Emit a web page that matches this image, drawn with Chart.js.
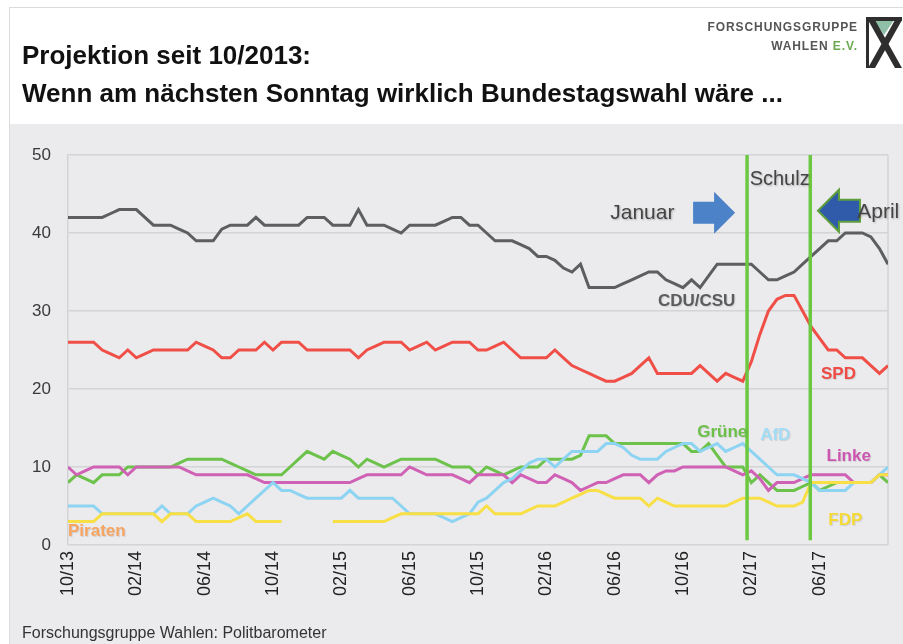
<!DOCTYPE html>
<html lang="de">
<head>
<meta charset="utf-8">
<title>Projektion seit 10/2013</title>
<script src="https://cdn.jsdelivr.net/npm/chart.js@4.4.1/dist/chart.umd.min.js"></script>
<style>
    html, body { margin: 0; padding: 0; background: #fff; }
    body { width: 903px; height: 644px; position: relative; overflow: hidden; font-family: "Liberation Sans", Arial, sans-serif; }
    .frame { position: absolute; left: 9px; top: 7px; width: 900px; height: 650px; border: 1px solid #dcdcdc; }
    .panel { position: absolute; left: 10px; top: 124px; right: 0; bottom: 0; background: #ebebed; }
    #chart { position: absolute; left: 0; top: 0; }
    .title { position: absolute; left: 22px; font-weight: bold; font-size: 26px; line-height: 30px; color: #111; white-space: nowrap; }
    .logo-text { position: absolute; right: 45px; font-weight: bold; color: #555; white-space: nowrap; letter-spacing: 0.9px; }
    .logo-text .ev { color: #6aa84f; }
    .logo { position: absolute; left: 865px; top: 16px; }
    .footer { position: absolute; left: 22px; top: 624px; font-size: 16px; line-height: 18px; color: #333; white-space: nowrap; }
</style>
</head>
<body>
<div class="frame"></div>
<div class="panel"></div>
<canvas id="chart" width="903" height="644"></canvas>
<div class="title" style="top:40px">Projektion seit 10/2013:</div>
<div class="title" style="top:78px">Wenn am nächsten Sonntag wirklich Bundestagswahl wäre ...</div>
<div class="logo-text" style="top:20px; font-size:12px">FORSCHUNGSGRUPPE</div>
<div class="logo-text" style="top:39px; font-size:12px">WAHLEN <span class="ev">E.V.</span></div>
<svg class="logo" width="38" height="54" viewBox="0 0 38 54">
    <polygon points="9,4 29,4 19,19" fill="#8fbfa6"/>
    <rect x="1" y="1" width="36" height="4" fill="#2e2e2e"/>
    <rect x="1" y="1" width="3" height="51" fill="#2e2e2e"/>
    <polygon points="3,4 10,4 37,52 30,52" fill="#2e2e2e"/>
    <polygon points="37,4 30,4 3,52 10,52" fill="#2e2e2e"/>
</svg>
<div class="footer">Forschungsgruppe Wahlen: Politbarometer</div>

<script>
// Politbarometer projection, half-monthly points starting 10/2013
const tickLabels = ['10/13', '02/14', '06/14', '10/14', '02/15', '06/15', '10/15', '02/16', '06/16', '10/16', '02/17', '06/17'];

const cdu = [
    42, 42, 42, 42, 42, 42.5, 43, 43, 43, 42,
    41, 41, 41, 40.5, 40, 39, 39, 39, 40.5, 41,
    41, 41, 42, 41, 41, 41, 41, 41, 42, 42,
    42, 41, 41, 41, 43, 41, 41, 41, 40.5, 40,
    41, 41, 41, 41, 41.5, 42, 42, 41, 41, 40,
    39, 39, 39, 38.5, 38, 37, 37, 36.5, 35.5, 35,
    36, 33, 33, 33, 33, 33.5, 34, 34.5, 35, 35,
    34, 33.5, 33, 34, 33, 34.5, 36, 36, 36, 36,
    36, 35, 34, 34, 34.5, 35, 36, 37, 38, 39,
    39, 40, 40, 40, 39.5, 38, 36
];
const spd = [
    26, 26, 26, 26, 25, 24.5, 24, 25, 24, 24.5,
    25, 25, 25, 25, 25, 26, 25.5, 25, 24, 24,
    25, 25, 25, 26, 25, 26, 26, 26, 25, 25,
    25, 25, 25, 25, 24, 25, 25.5, 26, 26, 26,
    25, 25.5, 26, 25, 25.5, 26, 26, 26, 25, 25,
    25.5, 26, 25, 24, 24, 24, 24, 25, 24, 23,
    22.5, 22, 21.5, 21, 21, 21.5, 22, 23, 24, 22,
    22, 22, 22, 22, 23, 22, 21, 22, 21.5, 21,
    23.5, 27, 30, 31.5, 32, 32, 30, 28, 26.5, 25,
    25, 24, 24, 24, 23, 22, 23
];
const gruene = [
    8, 9, 8.5, 8, 9, 9, 9, 10, 10, 10,
    10, 10, 10, 10.5, 11, 11, 11, 11, 11, 10.5,
    10, 9.5, 9, 9, 9, 9, 10, 11, 12, 11.5,
    11, 12, 11.5, 11, 10, 11, 10.5, 10, 10.5, 11,
    11, 11, 11, 11, 10.5, 10, 10, 10, 9, 10,
    9.5, 9, 9.5, 10, 10, 10, 11, 11, 11, 11,
    11.5, 14, 14, 14, 13, 13, 13, 13, 13, 13,
    13, 13, 13, 12, 12, 13, 11.5, 10, 10, 10,
    8, 9, 8, 7, 7, 7, 7.5, 8, 7, 7.5,
    8, 8, 8, 8, 8, 9, 8
];
const linke = [
    10, 9, 9.5, 10, 10, 10, 10, 9, 10, 10,
    10, 10, 10, 10, 9.5, 9, 9, 9, 9, 9,
    9, 9, 8.5, 8, 8, 8, 8, 8, 8, 8,
    8, 8, 8, 8, 8.5, 9, 9, 9, 9, 9,
    10, 9.5, 9, 9, 9, 9, 8.5, 8, 9, 9,
    9, 9, 8, 9, 8.5, 8, 8, 9, 8.5, 8,
    7, 7.5, 8, 8, 8.5, 9, 9, 9, 8, 9,
    9.5, 9.5, 10, 10, 10, 10, 10, 10, 9.5, 9,
    9.5, 8.5, 7, 8, 8, 8, 8.5, 9, 9, 9,
    9, 9, 8, 8, 8, 9, 9
];
const afd = [
    5, 5, 5, 5, 4, 4, 4, 4, 4, 4,
    4, 5, 4, 4, 4, 5, 5.5, 6, 5.5, 5,
    4, 5, 6, 7, 8, 7, 7, 6.5, 6, 6,
    6, 6, 6, 7, 6, 6, 6, 6, 6, 5,
    4, 4, 4, 4, 3.5, 3, 3.5, 4, 5.5, 6,
    7, 8, 8.5, 9.5, 10.5, 11, 11, 10, 11, 12,
    12, 12, 12, 13, 13, 12.5, 11.5, 11, 11, 11,
    12, 12.5, 13, 13, 12, 12.5, 13, 12, 12.5, 13,
    12, 11, 10, 9, 9, 9, 8.5, 8, 7, 7,
    7, 7, 8, 8, 8, 9, 10
];
const fdp = [
    3, 3, 3, 3, 4, 4, 4, 4, 4, 4,
    4, 3, 4, 4, 4, 3, 3, 3, 3, 3,
    3.5, 4, 3, 3, 3, 3, null, null, null, null,
    null, 3, 3, 3, 3, 3, 3, 3, 3.5, 4,
    4, 4, 4, 4, 4, 4, 4, 4, 4, 5,
    4, 4, 4, 4, 4.5, 5, 5, 5, 5.5, 6,
    6.5, 7, 7, 6.5, 6, 6, 6, 6, 5, 6,
    5.5, 5, 5, 5, 5, 5, 5, 5, 5.5, 6,
    6, 6, 5.5, 5, 5, 5, 5.5, 8, 8, 8,
    8, 8, 8, 8, 8, 9, 9
];

// months after 10/2013 for every poll point (two per month)
const months = cdu.map((_, i) => i / 2);

// Schulz phase markers (months after 10/2013)
const markerMonths = [39.75, 43.45];

const partyLabels = [
    { text: 'CDU/CSU', month: 36.8, value: 31.2, color: '#5b5c5e', align: 'center' },
    { text: 'SPD', month: 45.1, value: 21.9, color: '#ef4a43', align: 'center' },
    { text: 'Grüne', month: 38.3, value: 14.4, color: '#6cc04a', align: 'center' },
    { text: 'AfD', month: 41.4, value: 14.0, color: '#a3dcf5', align: 'center' },
    { text: 'Linke', month: 45.7, value: 11.4, color: '#cc55b0', align: 'center' },
    { text: 'FDP', month: 45.5, value: 3.2, color: '#f5da36', align: 'center' },
    { text: 'Piraten', month: 0, value: 1.8, color: '#f6a462', align: 'left' }
];

const series = [
    { label: 'FDP', data: fdp, color: '#f7df45' },
    { label: 'AfD', data: afd, color: '#8dd3f2' },
    { label: 'Linke', data: linke, color: '#d062b6' },
    { label: 'Grüne', data: gruene, color: '#6cc24a' },
    { label: 'SPD', data: spd, color: '#ef4f47' },
    { label: 'CDU/CSU', data: cdu, color: '#5d5e60' }
];

function drawArrow(ctx, tipX, cy, dir, fill, stroke) {
    // dir = 1 points right, -1 points left
    const headLen = 21, headHalf = 21, shaftLen = 21, shaftHalf = 11;
    const baseX = tipX - dir * headLen;
    const tailX = baseX - dir * shaftLen;
    ctx.beginPath();
    ctx.moveTo(tipX, cy);
    ctx.lineTo(baseX, cy - headHalf);
    ctx.lineTo(baseX, cy - shaftHalf);
    ctx.lineTo(tailX, cy - shaftHalf);
    ctx.lineTo(tailX, cy + shaftHalf);
    ctx.lineTo(baseX, cy + shaftHalf);
    ctx.lineTo(baseX, cy + headHalf);
    ctx.closePath();
    ctx.fillStyle = fill;
    ctx.fill();
    if (stroke) {
        ctx.strokeStyle = stroke;
        ctx.lineWidth = 2;
        ctx.stroke();
    }
}

const annotations = {
    id: 'annotations',
    beforeDatasetsDraw(chart) {
        const { ctx, chartArea } = chart;
        ctx.save();
        ctx.strokeStyle = '#d3d4d6';
        ctx.lineWidth = 1.5;
        ctx.beginPath();
        ctx.moveTo(chartArea.right, chartArea.top);
        ctx.lineTo(chartArea.right, chartArea.bottom);
        ctx.stroke();
        ctx.restore();
    },
    afterDatasetsDraw(chart) {
        const { ctx, chartArea, scales: { x, y } } = chart;
        ctx.save();

        // green lines around the Schulz phase
        ctx.strokeStyle = '#6cc840';
        ctx.lineWidth = 3.5;
        markerMonths.forEach(m => {
            const px = x.getPixelForValue(m);
            ctx.beginPath();
            ctx.moveTo(px, chartArea.top);
            ctx.lineTo(px, y.getPixelForValue(0.6));
            ctx.stroke();
        });

        // arrows
        const arrowY = y.getPixelForValue(42.6);
        drawArrow(ctx, x.getPixelForValue(39.05), arrowY, 1, '#4c82c7');
        drawArrow(ctx, x.getPixelForValue(43.9), arrowY - 2, -1, '#2f5baa', '#5e9f3c');

        // text annotations
        ctx.shadowColor = 'rgba(0,0,0,0.25)';
        ctx.shadowBlur = 2;
        ctx.shadowOffsetX = 1;
        ctx.shadowOffsetY = 1;
        ctx.fillStyle = '#444';
        ctx.font = '21px "Liberation Sans", Arial, sans-serif';
        ctx.textBaseline = 'middle';
        ctx.textAlign = 'right';
        ctx.fillText('Januar', x.getPixelForValue(35.5), arrowY);
        ctx.textAlign = 'left';
        ctx.fillText('April', x.getPixelForValue(46.2), arrowY - 1);
        ctx.font = '20px "Liberation Sans", Arial, sans-serif';
        ctx.fillText('Schulz', x.getPixelForValue(39.9), y.getPixelForValue(46.8));

        ctx.shadowColor = 'rgba(0,0,0,0.12)';
        ctx.shadowBlur = 1;
        ctx.font = 'bold 17px "Liberation Sans", Arial, sans-serif';
        partyLabels.forEach(l => {
            ctx.fillStyle = l.color;
            ctx.textAlign = l.align;
            ctx.fillText(l.text, x.getPixelForValue(l.month), y.getPixelForValue(l.value));
        });
        ctx.restore();
    }
};

Chart.defaults.font.family = '"Liberation Sans", Arial, sans-serif';

new Chart(document.getElementById('chart'), {
    type: 'line',
    data: {
        datasets: series.map(s => ({
            label: s.label,
            data: s.data.map((v, i) => ({ x: months[i], y: v })),
            borderColor: s.color,
            borderWidth: 3,
            pointRadius: 0,
            tension: 0,
            spanGaps: false,
            fill: false
        }))
    },
    options: {
        responsive: false,
        animation: false,
        devicePixelRatio: 1,
        layout: { padding: { top: 155, right: 15, bottom: 39, left: 0 } },
        plugins: {
            legend: { display: false },
            tooltip: { enabled: false }
        },
        scales: {
            x: {
                type: 'linear',
                min: 0,
                max: 48,
                afterFit: scale => {
                    scale.height = 60;
                    // rotated labels would otherwise reserve extra room on the sides
                    scale.paddingLeft = 0;
                    scale.paddingRight = 0;
                },
                grid: { display: false, drawTicks: false },
                border: { display: false },
                ticks: {
                    stepSize: 4,
                    autoSkip: false,
                    minRotation: 90,
                    maxRotation: 90,
                    padding: 6,
                    color: '#222',
                    font: { size: 18 },
                    callback: v => tickLabels[v / 4] || ''
                }
            },
            y: {
                min: 0,
                max: 50,
                afterFit: scale => { scale.width = 68; },
                grid: { color: '#d3d4d6', lineWidth: 1.5, drawTicks: false },
                border: { display: true, color: '#d3d4d6', width: 1.5 },
                ticks: {
                    stepSize: 10,
                    padding: 17,
                    color: '#3a3a3a',
                    font: { size: 17 }
                }
            }
        }
    },
    plugins: [annotations]
});
</script>
</body>
</html>
